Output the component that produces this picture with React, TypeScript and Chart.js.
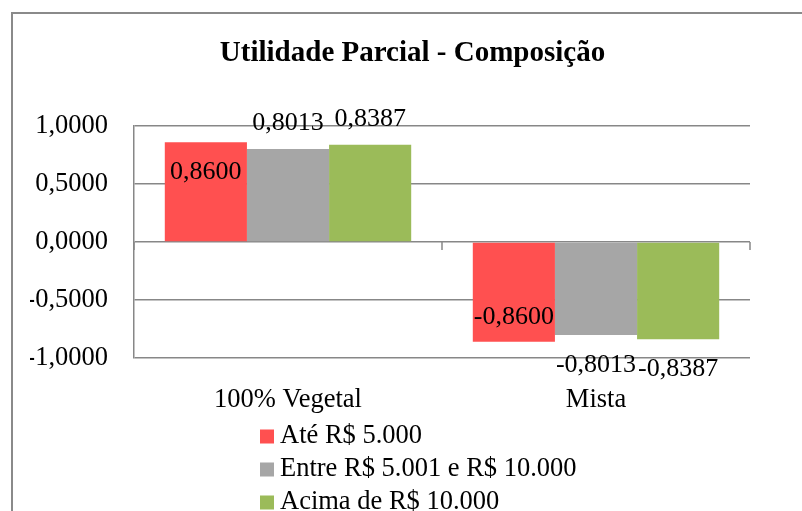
import React, { useEffect, useRef } from "react";
import { Chart, registerables } from "chart.js";

Chart.register(...registerables);

const categories = ["100% Vegetal", "Mista"];
const seriesNames = ["Até R$ 5.000", "Entre R$ 5.001 e R$ 10.000", "Acima de R$ 10.000"];
const serieAte5000 = [0.86, -0.86];
const serieEntre = [0.8013, -0.8013];
const serieAcima = [0.8387, -0.8387];
const yTickValues = [-1, -0.5, 0, 0.5, 1];
const chartTitle = "Utilidade Parcial - Composição";

const colors = ["#FF5050", "#A6A6A6", "#9BBB59"];
const labelPlacement = ["inside", "outside", "outside"];
const FONT = "'Liberation Serif', 'Times New Roman', serif";
const GRID = "#878787";

const fmt = (v: number) => v.toFixed(4).replace(".", ",");

const dataLabelsPlugin = {
  id: "dataLabels",
  afterDatasetsDraw(chart: any) {
    const ctx = chart.ctx;
    ctx.save();
    ctx.font = `26px ${FONT}`;
    ctx.fillStyle = "#000";
    ctx.textAlign = "center";
    ctx.textBaseline = "middle";
    chart.data.datasets.forEach((ds: any, di: number) => {
      const meta = chart.getDatasetMeta(di);
      meta.data.forEach((bar: any, i: number) => {
        const v = ds.data[i];
        const pos = v >= 0;
        const inside = labelPlacement[di] === "inside";
        let y;
        if (pos) y = inside ? bar.y + 30 : bar.y - 26;
        else y = inside ? bar.y - 25 : bar.y + 30;
        ctx.fillText(fmt(v), bar.x, y);
      });
    });
    ctx.restore();
  },
};

const axisTicksPlugin = {
  id: "axisTicks",
  afterDraw(chart: any) {
    const ctx = chart.ctx;
    const xs = chart.scales.x;
    const ys = chart.scales.y;
    const y0 = ys.getPixelForValue(0);
    const n = chart.data.labels.length;
    ctx.save();
    ctx.strokeStyle = GRID;
    ctx.lineWidth = 1.5;
    for (let i = 0; i <= n; i++) {
      const x = Math.round(xs.left + (i * (xs.right - xs.left)) / n);
      ctx.beginPath();
      ctx.moveTo(x, y0);
      ctx.lineTo(x, y0 + 8);
      ctx.stroke();
    }
    ctx.restore();
  },
};

const legendPlugin = {
  id: "customLegend",
  afterDraw(chart: any) {
    const ctx = chart.ctx;
    ctx.save();
    ctx.font = `26.5px ${FONT}`;
    ctx.textAlign = "left";
    ctx.textBaseline = "middle";
    chart.data.datasets.forEach((ds: any, i: number) => {
      const cy = 436.5 + i * 33;
      ctx.fillStyle = ds.backgroundColor;
      ctx.fillRect(260, cy - 7, 14, 14);
      ctx.fillStyle = "#000";
      ctx.fillText(ds.label, 280, cy);
    });
    ctx.restore();
  },
};

export default function App() {
  const ref = useRef<HTMLCanvasElement>(null);
  useEffect(() => {
    if (!ref.current) return;
    const chart = new Chart(ref.current, {
      type: "bar",
      data: {
        labels: categories,
        datasets: [serieAte5000, serieEntre, serieAcima].map((d, i) => ({
          label: seriesNames[i],
          data: d,
          backgroundColor: colors[i],
          borderWidth: 0,
          categoryPercentage: 0.8,
          barPercentage: 1.0,
        })),
      },
      options: {
        responsive: false,
        animation: false,
        layout: { padding: { left: 30, right: 7, top: 0, bottom: 93 } },
        plugins: {
          legend: { display: false },
          tooltip: { enabled: false },
          title: {
            display: true,
            text: chartTitle,
            color: "#000",
            font: { family: FONT, size: 29, weight: "bold" },
            padding: { top: 36.5, bottom: 54.7 },
          },
        },
        scales: {
          x: {
            grid: { display: false, drawTicks: false },
            border: { display: false },
            ticks: { color: "#000", font: { family: FONT, size: 26.5 }, padding: 26, maxRotation: 0 },
            afterFit: (s: any) => {
              s.height = 60;
            },
          },
          y: {
            min: -1,
            max: 1,
            afterBuildTicks: (s: any) => {
              s.ticks = yTickValues.map((v) => ({ value: v }));
            },
            grid: { color: GRID, lineWidth: 1.5, drawTicks: false },
            border: { display: true, color: GRID, width: 1.5 },
            ticks: {
              color: "#000",
              font: { family: FONT, size: 26.5 },
              padding: 26,
              callback: (v: any) => fmt(Number(v)),
            },
            afterFit: (s: any) => {
              s.width = 104;
            },
          },
          yRight: {
            type: "linear",
            position: "right",
            display: true,
            grid: { display: false, drawTicks: false },
            border: { display: false },
            ticks: { display: false },
            afterFit: (s: any) => {
              s.width = 45;
            },
          },
        },
      },
      plugins: [dataLabelsPlugin, axisTicksPlugin, legendPlugin],
    });
    return () => chart.destroy();
  }, []);

  return (
    <div style={{ position: "fixed", left: 0, top: 0, width: 802, height: 511, overflow: "hidden", background: "#fff" }}>
      <div
        style={{
          position: "absolute",
          left: 11,
          top: 12,
          width: 900,
          height: 600,
          border: "2px solid #8a8a8a",
          boxSizing: "border-box",
        }}
      />
      <canvas ref={ref} width={802} height={511} style={{ position: "absolute", left: 0, top: 0 }} />
    </div>
  );
}
